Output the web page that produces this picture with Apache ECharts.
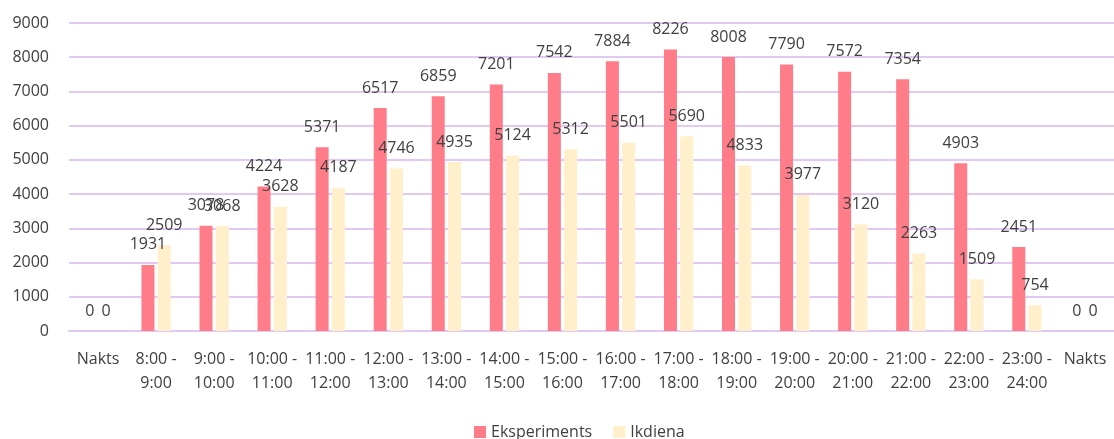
<!DOCTYPE html>
<html>
<head>
<meta charset="utf-8">
<script src="https://cdn.jsdelivr.net/npm/echarts@6/dist/echarts.min.js"></script>
<style>
  html, body { margin: 0; padding: 0; background: #FFFFFF; }
  #chart { width: 1114px; height: 439px; }
</style>
</head>
<body>
<div id="chart"></div>
<script>
// Time slots (x axis)
const categories = [
  'Nakts', '8:00 -\n9:00', '9:00 -\n10:00', '10:00 -\n11:00', '11:00 -\n12:00',
  '12:00 -\n13:00', '13:00 -\n14:00', '14:00 -\n15:00', '15:00 -\n16:00',
  '16:00 -\n17:00', '17:00 -\n18:00', '18:00 -\n19:00', '19:00 -\n20:00',
  '20:00 -\n21:00', '21:00 -\n22:00', '22:00 -\n23:00', '23:00 -\n24:00', 'Nakts',
];

const eksperiments = [0, 1931, 3078, 4224, 5371, 6517, 6859, 7201, 7542, 7884, 8226, 8008, 7790, 7572, 7354, 4903, 2451, 0];
const ikdiena      = [0, 2509, 3068, 3628, 4187, 4746, 4935, 5124, 5312, 5501, 5690, 4833, 3977, 3120, 2263, 1509, 754, 0];

const FONT = '"Open Sans", "Noto Sans", sans-serif';
const TEXT_COLOR = '#404040';
const GRID_COLOR = '#E2C9F3';

const chart = echarts.init(document.getElementById('chart'));

const valueLabel = {
  show: true,
  position: 'top',
  distance: 12,
  color: TEXT_COLOR,
  fontSize: 16,
  fontFamily: FONT,
};

chart.setOption({
  backgroundColor: '#FFFFFF',
  animation: false,
  grid: { left: 69, right: 0, top: 23, bottom: 108 },
  legend: {
    bottom: -6,
    left: 469,
    itemWidth: 12,
    itemHeight: 12,
    itemGap: 21,
    icon: 'rect',
    textStyle: { color: TEXT_COLOR, fontSize: 16, fontFamily: FONT },
    data: ['Eksperiments', 'Ikdiena'],
  },
  xAxis: {
    type: 'category',
    data: categories,
    axisLine: { show: true, lineStyle: { color: GRID_COLOR, width: 2 } },
    axisTick: { show: false },
    axisLabel: {
      color: TEXT_COLOR,
      fontSize: 16,
      fontFamily: FONT,
      lineHeight: 24,
      margin: 16,
      interval: 0,
    },
  },
  yAxis: {
    type: 'value',
    min: 0,
    max: 9000,
    interval: 1000,
    axisLine: { show: false },
    axisTick: { show: false },
    axisLabel: {
      color: TEXT_COLOR,
      fontSize: 16,
      fontFamily: FONT,
      margin: 20,
      formatter: (v) => String(v),
    },
    splitLine: { lineStyle: { color: GRID_COLOR, width: 2 } },
  },
  series: [
    {
      name: 'Eksperiments',
      type: 'bar',
      data: eksperiments,
      barWidth: 13,
      barGap: '25%',
      itemStyle: { color: '#FF7C89' },
      label: valueLabel,
    },
    {
      name: 'Ikdiena',
      type: 'bar',
      data: ikdiena,
      barWidth: 13,
      itemStyle: { color: '#FFEFCB' },
      label: valueLabel,
    },
  ],
});
</script>
</body>
</html>
